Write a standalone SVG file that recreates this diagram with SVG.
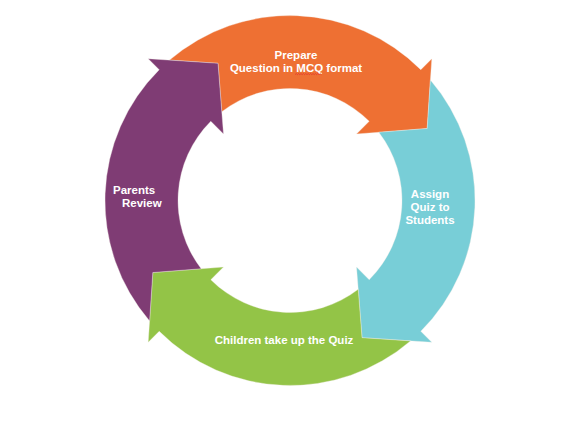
<svg xmlns="http://www.w3.org/2000/svg" width="588" height="424" viewBox="0 0 588 424">
  <defs>
    <style>
      .lbl { font-family: "Liberation Sans", Arial, sans-serif; font-weight: bold; font-size: 11.5px; fill: #FFFFFF; }
      .mid { text-anchor: middle; }
      .arrow { stroke: #F4EDE8; stroke-width: 0.6; stroke-opacity: 0.6; }
    </style>
    <path id="arrowShape" d="M169.5,60.1 A185,185 0 0 1 420.8,69.7 L431.8,58.7 L427.2,128.5 L356.5,134 L369.2,121.3 A112,112 0 0 0 221.76,111.7 L218,63.3 Z"/>
  </defs>
  <rect width="588" height="424" fill="#FFFFFF"/>
  <g id="cycle">
    <g id="prepare">
      <use href="#arrowShape" class="arrow" fill="#EE7033"/>
      <text class="lbl mid" x="296" y="59">Prepare</text>
      <text class="lbl mid" x="296" y="72">Question in MCQ format</text>
      <path d="M295,74.6 l1.2,-1 l1.2,1 l1.2,-1 l1.2,1 l1.2,-1 l1.2,1 l1.2,-1 l1.2,1 l1.2,-1 l1.2,1 l1.2,-1 l1.2,1 l1.2,-1 l1.2,1 l1.2,-1 l1.2,1 l1.2,-1 l1.2,1 l1.2,-1 l1.2,1 l1.2,-1 l1.2,1" fill="none" stroke="#E0302A" stroke-width="0.7"/>
    </g>
    <g id="assign">
      <use href="#arrowShape" class="arrow" fill="#78CED7" transform="rotate(90 290 200.5)"/>
      <text class="lbl mid" x="430" y="197.5">Assign</text>
      <text class="lbl mid" x="430" y="210.5">Quiz to</text>
      <text class="lbl mid" x="430" y="223.5">Students</text>
    </g>
    <g id="children">
      <use href="#arrowShape" class="arrow" fill="#93C447" transform="rotate(180 290 200.5)"/>
      <text class="lbl mid" x="284" y="344">Children take up the Quiz</text>
    </g>
    <g id="parents">
      <use href="#arrowShape" class="arrow" fill="#7F3C74" transform="rotate(270 290 200.5)"/>
      <text class="lbl" x="113" y="194">Parents</text>
      <text class="lbl" x="122" y="207">Review</text>
    </g>
  </g>
</svg>
